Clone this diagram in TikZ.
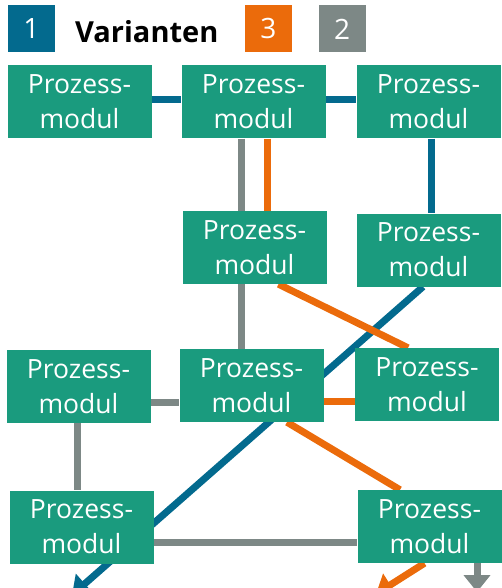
\documentclass[tikz,border=0pt]{standalone}
\usepackage{fontspec}
\setmainfont{Open Sans}
\usetikzlibrary{arrows.meta,backgrounds}
\definecolor{modgreen}{HTML}{1A9B7E}
\definecolor{varblue}{HTML}{036A8E}
\definecolor{varorange}{HTML}{EB6B0B}
\definecolor{vargray}{HTML}{7D8886}
\tikzset{
  modul/.style={fill=modgreen, text=white, inner sep=0pt,
    minimum width=144pt, minimum height=73pt, align=center,
    font=\fontsize{26.5}{35}\selectfont},
  badge/.style={minimum size=47pt, inner sep=0pt, text=white,
    font=\fontsize{28}{30}\selectfont},
  link/.style={line width=7pt},
  blueline/.style={link, draw=varblue},
  orangeline/.style={link, draw=varorange},
  grayline/.style={link, draw=vargray},
  headtip/.style={-{Triangle[width=26pt,length=17pt]}}
}
\begin{document}
\begin{tikzpicture}[x=1pt,y=-1pt]
\useasboundingbox (0,0) rectangle (501,588);

% legend
\node[badge, fill=varblue] (L1) at (31.5,28.5) {1};
\node[anchor=base west, inner sep=0pt, font=\fontsize{29}{32}\selectfont\bfseries] (LT) at (75,43) {Varianten};
\node[badge, fill=varorange] (L3) at (268.5,29) {3};
\node[badge, fill=vargray] (L2) at (342,29) {2};

% process modules
\node[modul] (A1) at (79.5,102) {Prozess-\\modul};
\node[modul] (A2) at (253.5,102) {Prozess-\\modul};
\node[modul] (A3) at (428.5,102) {Prozess-\\modul};
\node[modul] (B2) at (254.5,247.5) {Prozess-\\modul};
\node[modul] (B3) at (428.5,250) {Prozess-\\modul};
\node[modul] (C1) at (78.5,386.5) {Prozess-\\modul};
\node[modul] (C2) at (251.5,385.5) {Prozess-\\modul};
\node[modul] (C3) at (427,384.5) {Prozess-\\modul};
\node[modul] (D1) at (81.5,527) {Prozess-\\modul};
\node[modul] (D2) at (429.5,526.5) {Prozess-\\modul};

% free ends of the outgoing arrows (just below the lower edge)
\coordinate (outBlue) at (72,595);
\coordinate (outOrange) at (376,594);
\coordinate (outGray) at (477,592);

% connectors, drawn behind the modules
\begin{scope}[on background layer]
  % variant 1 (blue)
  \draw[blueline] ([yshift=2pt]A1.east) -- ([yshift=2pt]A2.west);
  \draw[blueline] ([yshift=2pt]A2.east) -- ([yshift=2pt]A3.west);
  \draw[blueline] ([xshift=2.5pt]A3.south) -- ([xshift=2.5pt]A3.south |- B3.north);
  \draw[blueline, headtip] ([xshift=-5.5pt]B3.south) -- (outBlue);
  % variant 3 (orange)
  \draw[orangeline] ([xshift=13.5pt]A2.south) -- ([xshift=13.5pt]A2.south |- B2.north);
  \draw[orangeline] ([xshift=24pt]B2.south) -- ([xshift=-19pt]C3.north);
  \draw[orangeline] ([yshift=-16pt]C2.east) -- ([yshift=-16pt]C2.east -| C3.west);
  \draw[orangeline] ([xshift=35.5pt]C2.south) -- ([xshift=-29.5pt]D2.north);
  \draw[orangeline, headtip] ([xshift=-5pt]D2.south) -- (outOrange);
  % variant 2 (gray)
  \draw[grayline] ([xshift=-12.5pt]A2.south) -- ([xshift=-12.5pt]A2.south |- C2.north);
  \draw[grayline] ([yshift=-16pt]C1.east) -- ([yshift=-16pt]C1.east -| C2.west);
  \draw[grayline] ([xshift=-1.5pt]C1.south) -- ([xshift=-1.5pt]C1.south |- D1.north);
  \draw[grayline] ([yshift=-15pt]D1.east) -- ([yshift=-15pt]D1.east -| D2.west);
  \draw[grayline, headtip] (D2.south -| outGray) -- (outGray);
\end{scope}
\end{tikzpicture}
\end{document}
